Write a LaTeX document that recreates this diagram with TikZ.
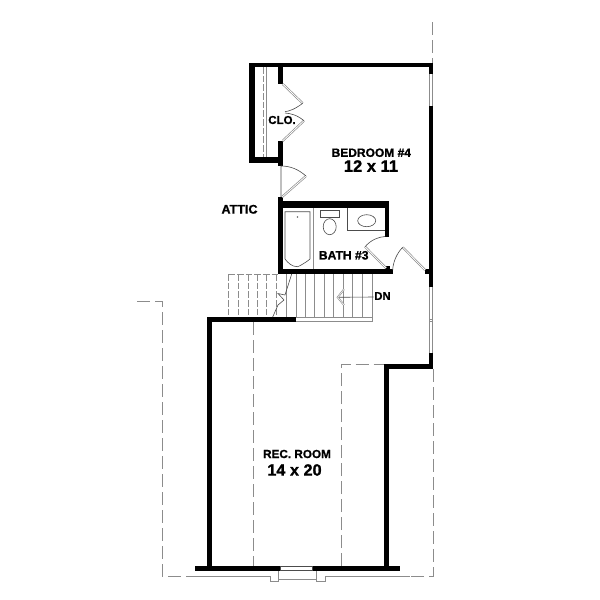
\documentclass[tikz,border=0pt]{standalone}
\usepackage{fontspec}
\setmainfont[BoldFeatures={FakeBold=1.2}]{Liberation Sans}
\tikzset{
 x=0.75pt,y=-0.75pt,
 wall/.style={fill=black,draw=none},
 thin gray/.style={draw=black!45,line width=0.75pt},
 thinblk/.style={draw=black!70,line width=0.45pt},
 dash gray/.style={draw=black!45,line width=0.75pt,dash pattern=on 10pt off 3.5pt},
 sdash/.style={draw=black!45,line width=0.6pt,dash pattern=on 5pt off 1.5pt},
 leaf/.style={draw=black!45,line width=0.5pt,double=white,double distance=0.6pt},
 lab/.style={font=\bfseries,inner sep=0pt,text=black,align=center},
}
\begin{document}
\begin{tikzpicture}
\useasboundingbox[fill=white] (0,0) rectangle (600,600);
% outline dashes
\draw[dash gray] (432.7,22) -- (432.7,63);
\draw[dash gray] (433,369) -- (433,576) -- (410,576);
\draw[dash gray] (137,301) -- (162,301) -- (162,576) -- (189,576);
\draw[thin gray] (189,576) -- (270,576) -- (270,581) -- (278.7,581) -- (278.7,570) (278.7,579) -- (316.7,579) (316.7,570) -- (316.7,581) -- (325,581) -- (325,576) -- (410,576);
\draw[dash gray] (253.3,322) -- (253.3,566);
\draw[dash gray] (341.7,566) -- (341.7,364) -- (384,364);
% closet shelf
\draw[sdash] (263.3,67) -- (263.3,157);
\draw[thin gray] (266,67) -- (266,157);
% walls
\fill[wall] (248.7,62.7) rectangle (432.7,67.3);
\fill[wall] (248.7,62.7) rectangle (254.7,162.7);
\fill[wall] (248.7,157.3) rectangle (282.7,162.7);
\fill[wall] (278,67) rectangle (282.7,84);
\fill[wall] (278,140.7) rectangle (282.7,165.7);
\fill[wall] (428.7,63) rectangle (432.7,74);
\fill[wall] (428.7,106) rectangle (432.7,287);
\fill[wall] (425,269) rectangle (432.7,274);
\fill[wall] (428.7,353) rectangle (432.7,369.3);
\fill[wall] (384,364) rectangle (432.7,369.3);
\fill[wall] (383.5,364) rectangle (388.7,570);
\fill[wall] (207,317.3) rectangle (296,321.7);
\fill[wall] (207,317.3) rectangle (212.3,570);
\fill[wall] (195.3,566) rectangle (280,570.7);
\fill[wall] (312.7,566) rectangle (400,570.7);
\fill[wall] (278,201.3) rectangle (389.3,208.3);
\fill[wall] (278,197) rectangle (282.7,274);
\fill[wall] (385,201.3) rectangle (389.3,236.7);
\fill[wall] (278,269.3) rectangle (392.7,274);
\fill[wall] (385,266) rectangle (390,270);
% windows
\draw[thin gray] (429.5,74) -- (429.5,106) (432,74) -- (432,106);
\draw[thin gray] (429.5,287) -- (429.5,353) (432,287) -- (432,353) (429.5,319) -- (432,319) (429.5,321) -- (432,321);
\draw[thinblk] (280,566.5) rectangle (312.7,570.5);
% doors
\draw[leaf] (282.7,84) -- (302.7,103.3);
\draw[thinblk] (302.7,103.3) .. controls (295,109) and (290,111) .. (285,111.7);
\draw[leaf] (282.5,141) -- (304,120.7);
\draw[thinblk] (304,120.7) .. controls (297,115) and (291,113.5) .. (285,113);
\draw[leaf] (282,197) -- (306,176);
\draw[thinblk] (306,176) .. controls (298,169) and (290,166) .. (281,166) -- (281,197);
\draw[leaf] (386,268) -- (365,246.7);
\draw[thinblk] (365,246.7) .. controls (371,240) and (378,237) .. (385,236.5);
\draw[leaf] (425,270) -- (402.7,247.3);
\draw[thinblk] (402.7,247.3) .. controls (397,253) and (393,262) .. (392.7,270);
% bath fixtures
\draw[thinblk] (285,211.7) -- (310,211.7) -- (310,259) .. controls (304,264) and (298,266.7) .. (297.5,266.7) .. controls (292,266.7) and (288,263) .. (285,259) -- cycle;
\fill[black!60] (297.5,217) circle (0.9);
\draw[thin gray] (313.3,208) -- (313.3,269);
\draw[thinblk] (320.3,210.7) rectangle (339.3,217.3);
\draw[thinblk] (329.7,226.7) ellipse [x radius=6.5, y radius=8];
\draw[thinblk] (347.7,208) -- (347.7,230.3) -- (385,230.3);
\draw[thinblk] (366.7,220.7) ellipse [x radius=9, y radius=6];
% stairs
\foreach \tx in {286.7,296,305,314.3,324.3,333.7,343.3,352.7,362.7,372.3}
  \draw[thin gray] (\tx,274) -- (\tx,317.3);
\draw[thin gray] (296,321.5) -- (372.3,321.5) -- (372.3,317.3) -- (296,317.3);
\foreach \tx in {228.3,238.3,248.3,257.7,266.7,276.7}
  \draw[sdash] (\tx,274) -- (\tx,317.3);
\draw[sdash] (228.3,274) -- (278,274);
\draw[thinblk] (291.7,274) -- (285,295) -- (278,293.5) -- (284,300) -- (278,305) -- (272.7,317);
% labels
\node[lab,font=\bfseries\fontsize{9}{10}\selectfont] (bed) at (371.3,152.7) {BEDROOM \#4};
\node[lab,font=\bfseries\fontsize{12.4}{13}\selectfont] (bedsize) at (371,166) {12 x 11};
\node[lab,font=\bfseries\fontsize{8.6}{10}\selectfont] (clo) at (282,120) {CLO.};
\node[lab,font=\bfseries\fontsize{9.4}{10}\selectfont] (attic) at (239.5,209.3) {ATTIC};
\node[lab,font=\bfseries\fontsize{9.1}{10}\selectfont] (bath) at (343.7,255.3) {BATH \#3};
\node[lab,font=\bfseries\fontsize{8.5}{10}\selectfont] (dn) at (382.5,296) {DN};
\node[lab,font=\bfseries\fontsize{8.8}{10}\selectfont] (rec) at (297,454) {REC. ROOM};
\node[lab,font=\bfseries\fontsize{12.2}{13}\selectfont] (recsize) at (294.5,470) {14 x 20};
% arrow
\coordinate (tip) at (337.7,297.3);
\draw[thinblk] (dn.west) ++(-0.5,1) -- (tip);
\draw[draw=black!45,line width=0.45pt,double=white,double distance=0.4pt] (344,289.3) -- (tip) -- (344,305);
\end{tikzpicture}
\end{document}
